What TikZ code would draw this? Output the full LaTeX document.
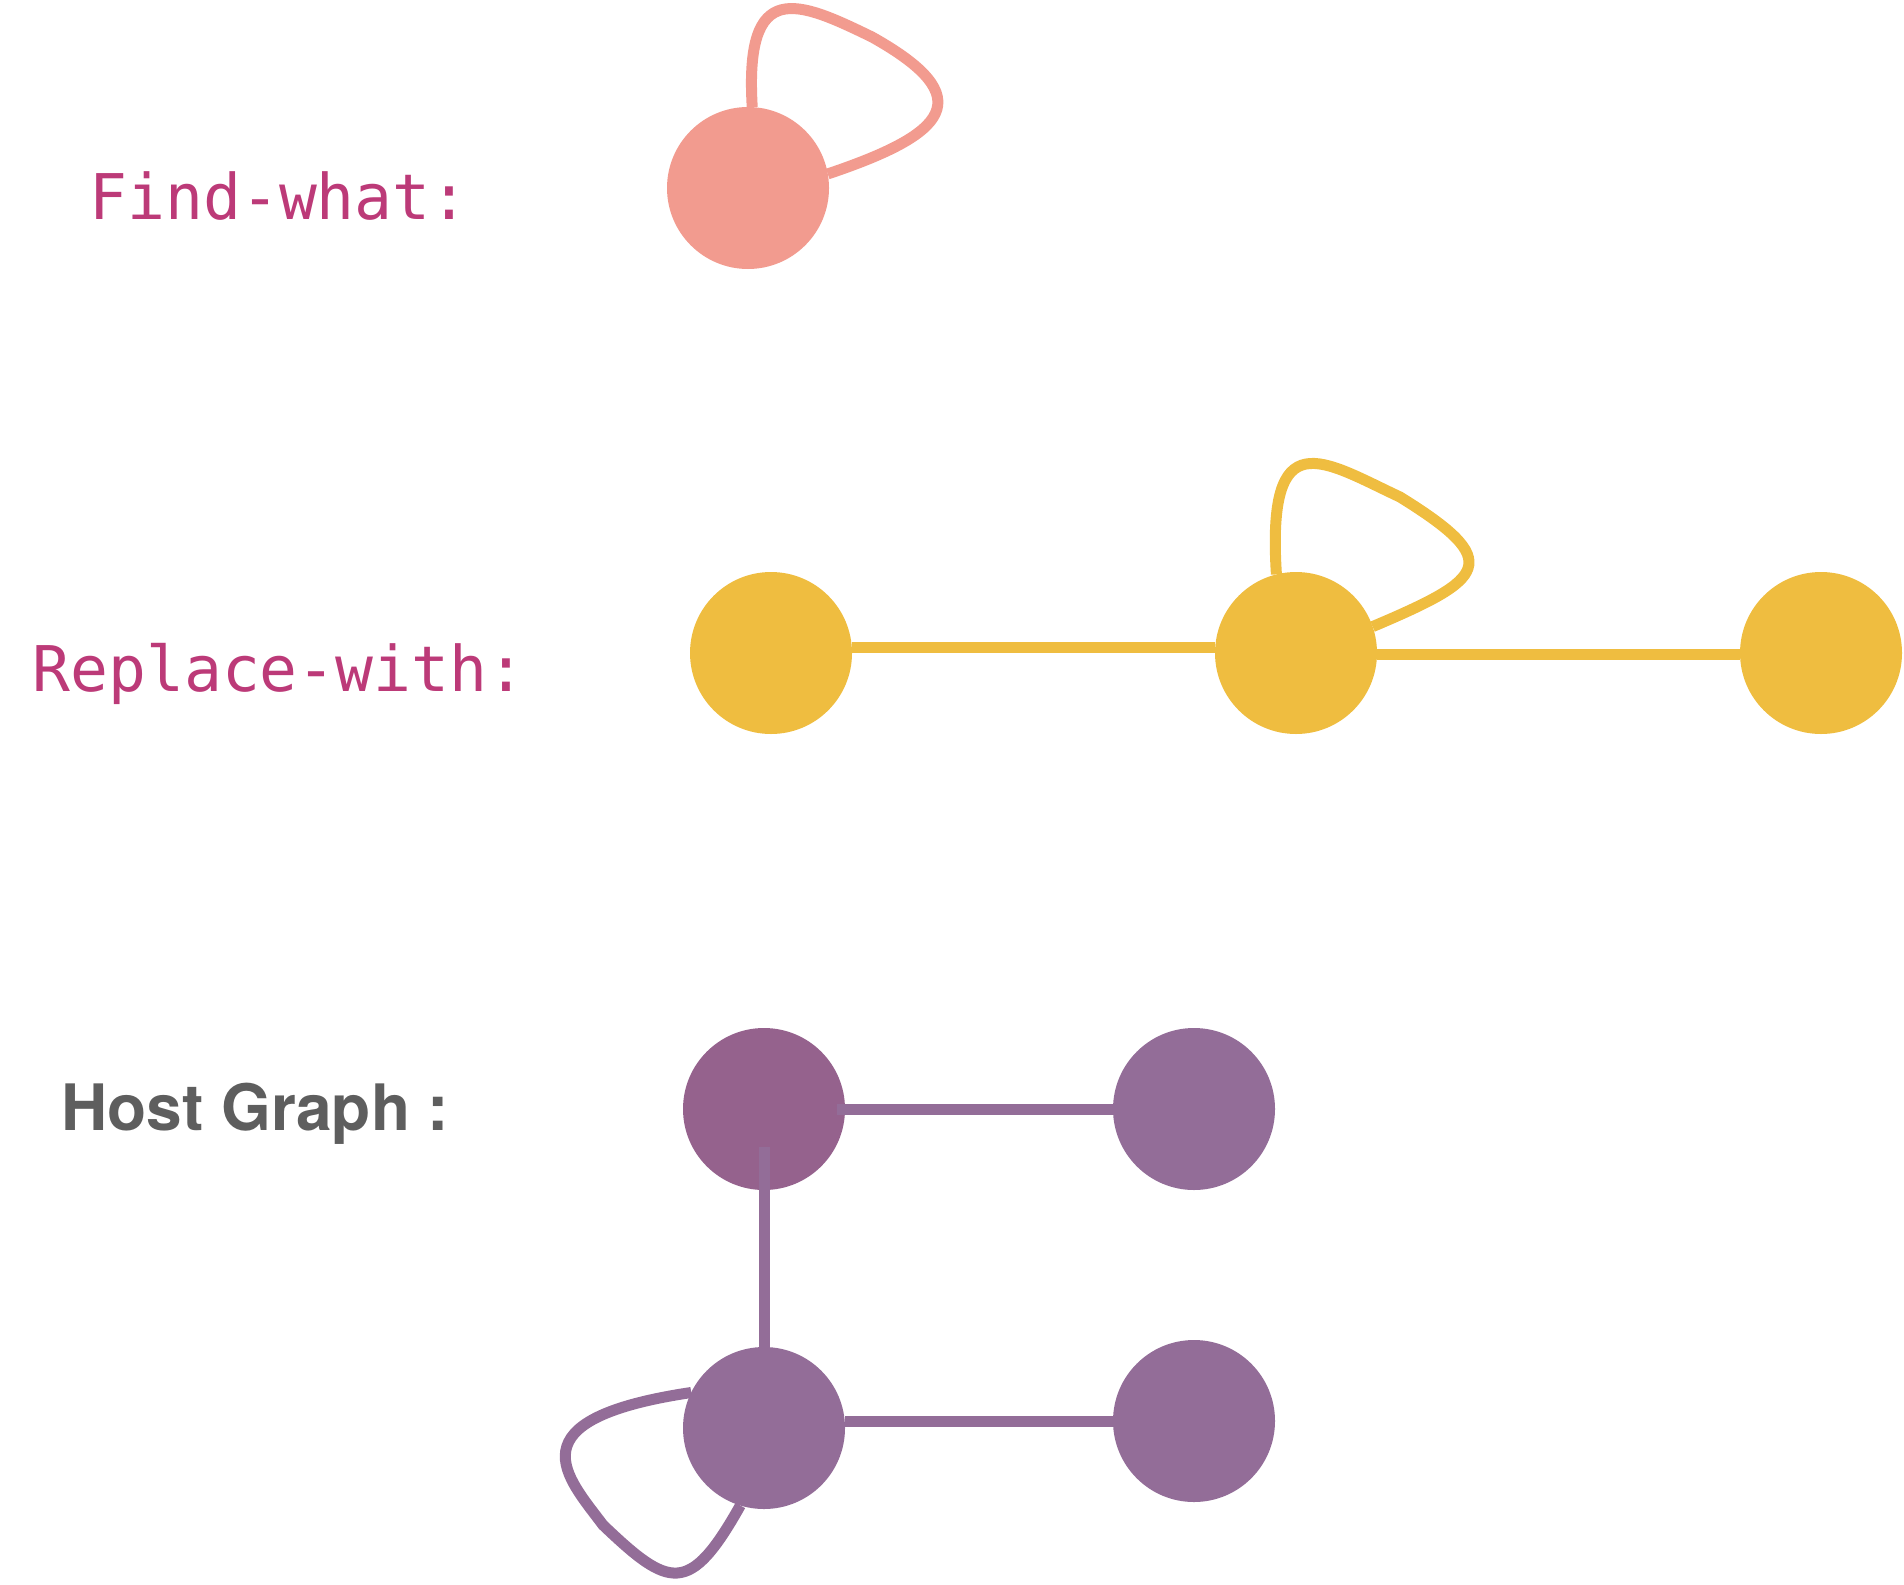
\documentclass[tikz,border=0pt]{standalone}
\usepackage{fontspec}
\newfontfamily\monofont{DejaVu Sans Mono}
\newfontfamily\headfont{TeX Gyre Heros}
\newcommand\monolabel{\monofont\fontsize{31.5pt}{36pt}\selectfont}
\newcommand\hostlabel{\headfont\bfseries\fontsize{32pt}{36pt}\selectfont}
\definecolor{findc}{HTML}{F29B8F}
\definecolor{replc}{HTML}{EFBD40}
\definecolor{hostc}{HTML}{936D98}
\definecolor{hostdark}{HTML}{95628D}
\definecolor{labelpink}{HTML}{BC3A78}
\definecolor{hostgray}{HTML}{5E5E5E}

\begin{document}
\begin{tikzpicture}[x=0.5pt, y=-0.5pt,
		vertex/.style={circle, inner sep=0pt, outer sep=0pt, minimum size=81pt},
		link/.style={line width=5.5pt},
		lbl/.style={anchor=base west, inner sep=0pt}]
		\useasboundingbox (0,0) rectangle (1904,1584);

		% labels
		\node[lbl, text=labelpink, font=\monolabel] (findlbl) at (89,219) {Find-what:};
		\node[lbl, text=labelpink, font=\monolabel] (repllbl) at (32,691) {Replace-with:};
		\node[lbl, text=hostgray, font=\hostlabel] (hostlbl) at (61,1130) {Host Graph :};

		% find-what
		\node[vertex, fill=findc] (fa) at (748,188) {};
		\draw[link, findc] (fa.87) .. controls +(-8,-130) and +(-74,-36) .. ([shift={(124,-151)}]fa.center)
			.. controls +(109,61) and +(119,-40) .. (fa.10);

		% replace-with
		\node[vertex, fill=replc] (ra) at (771,653) {};
		\node[vertex, fill=replc] (rb) at (1296,653) {};
		\node[vertex, fill=replc] (rc) at (1821,653) {};
		\draw[link, replc] ([yshift=3pt]ra.east) -- ([yshift=3pt]rb.west);
		\draw[link, replc] ([yshift=-0.5pt]rb.east) -- ([yshift=-0.5pt]rc.west);
		\draw[link, replc] (rb.104) .. controls +(-10,-155) and +(-77,-36) .. ([shift={(104,-156)}]rb.center)
			.. controls +(105,65) and +(113,-48) .. (rb.19);

		% host graph
		\node[vertex, fill=hostdark] (tl) at (764,1109) {};
		\node[vertex, fill=hostc] (tr) at (1194,1109) {};
		\node[vertex, fill=hostc] (bl) at (764,1428) {};
		\node[vertex, fill=hostc] (br) at (1194,1421) {};
		\draw[link, hostc] ([xshift=-4pt]tl.east) -- (tr.west);
		\draw[link, hostc] ([yshift=-19pt]tl.center) -- (bl.north);
		\draw[link, hostc] (bl.east |- br.west) -- (br.west);
		\draw[link, hostc] (bl.253) .. controls +(-51,91) and +(66,63) .. ([shift={(-161,97)}]bl.center)
			.. controls +(-36,-48) and +(-181,27) .. (bl.154);
	\end{tikzpicture}
\end{document}
